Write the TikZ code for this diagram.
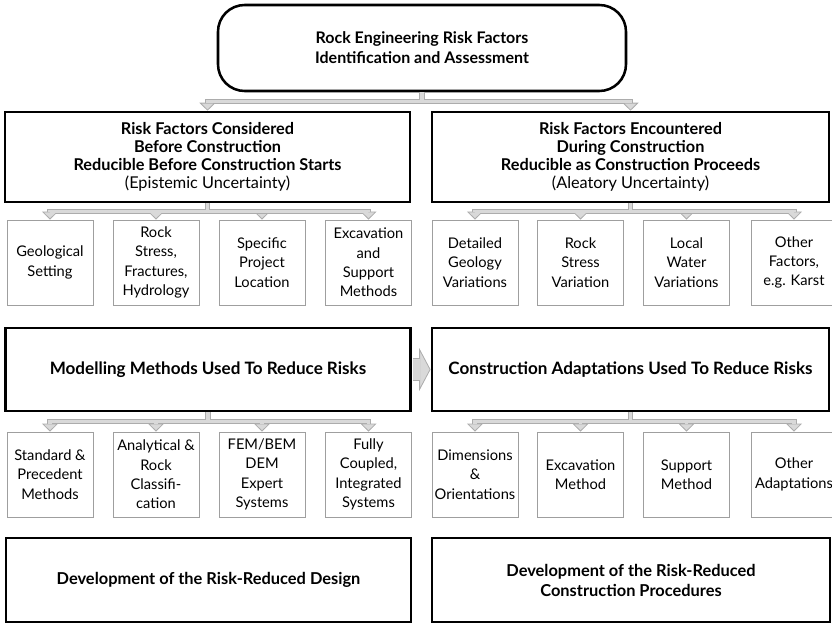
\documentclass[tikz,border=0pt]{standalone}
\usepackage{fontspec}
\setmainfont{Lato}
\usetikzlibrary{arrows.meta}

\begin{document}
\begin{tikzpicture}[x=0.75pt,y=-0.75pt,
  main node/.style={draw, line width=1.9pt, align=center, inner sep=2pt,
    font=\fontsize{12.2}{13.6}\selectfont\bfseries},
  top node/.style={main node, rounded corners=20pt,
    font=\fontsize{12}{15}\selectfont\bfseries},
  big node/.style={main node, font=\fontsize{12.8}{15}\selectfont\bfseries},
  end node/.style={main node, font=\fontsize{12.3}{15}\selectfont\bfseries},
  sub node/.style={draw=gray!75, line width=0.6pt, align=center, inner sep=1pt,
    minimum width=64.5pt, minimum height=63.75pt,
    font=\fontsize{11}{14.5}\selectfont},
  feed/.style={draw=gray!65, line width=3.8pt,
    -{Triangle[length=6pt,width=12pt,fill=gray!30,line width=0.6pt]}},
  feed fill/.style={draw=gray!30, line width=2.4pt, shorten >=5.5pt}]

  \useasboundingbox (0,0) rectangle (832,624);

  % top level
  \node[top node, minimum width=306pt, minimum height=64.5pt] (101) at (422,48)
    {Rock Engineering Risk Factors\\Identification and Assessment};

  % before / during construction
  \node[main node, minimum width=303.75pt, minimum height=67.5pt] (201) at (207.5,157)
    {Risk Factors Considered\\Before Construction\\Reducible Before Construction Starts\\
     {\mdseries (Epistemic Uncertainty)}};
  \node[main node, minimum width=298pt, minimum height=67.5pt] (202) at (630.5,157)
    {Risk Factors Encountered\\During Construction\\Reducible as Construction Proceeds\\
     {\mdseries (Aleatory Uncertainty)}};

  \node[sub node] (301) at (50,262.5)    {Geological\\Setting};
  \node[sub node] (302) at (156,262.5)   {Rock\\Stress,\\Fractures,\\Hydrology};
  \node[sub node] (303) at (262,262.5)   {Specific\\Project\\Location};
  \node[sub node] (304) at (368.5,262.5) {Excavation\\and\\Support\\Methods};
  \node[sub node] (305) at (475,262.5)   {Detailed\\Geology\\Variations};
  \node[sub node] (306) at (580.5,262.5) {Rock\\Stress\\Variation};
  \node[sub node] (307) at (686.5,262.5) {Local\\Water\\Variations};
  \node[sub node] (308) at (794,262.5)   {Other\\Factors,\\e.g. Karst};

  % risk reduction
  \node[big node, minimum width=303.75pt, minimum height=62.25pt] (401) at (208,369.5)
    {Modelling Methods Used To Reduce Risks};
  \node[big node, minimum width=298pt, minimum height=62.25pt] (402) at (630.5,369.5)
    {Construction Adaptations Used To Reduce Risks};

  \node[sub node] (501) at (50,474.5)    {Standard \&\\Precedent\\Methods};
  \node[sub node] (502) at (156,474.5)   {Analytical \&\\Rock\\Classifi-\\cation};
  \node[sub node] (503) at (262,474.5)   {FEM/BEM\\DEM\\Expert\\Systems};
  \node[sub node] (504) at (368.5,474.5) {Fully\\Coupled,\\Integrated\\Systems};
  \node[sub node] (505) at (475,474.5)   {Dimensions\\\&\\Orientations};
  \node[sub node] (506) at (580.5,474.5) {Excavation\\Method};
  \node[sub node] (507) at (686.5,474.5) {Support\\Method};
  \node[sub node] (508) at (794,474.5)   {Other\\Adaptations};

  % outcomes
  \node[end node, minimum width=303.75pt, minimum height=63pt] (601) at (208.5,580)
    {Development of the Risk-Reduced Design};
  \node[end node, minimum width=298.5pt, minimum height=63pt] (602) at (631,580)
    {Development of the Risk-Reduced\\Construction Procedures};

  % grey feeders, outline first then fill
  \foreach \a/\b/\d in {101/201/9, 101/202/9,
      201/301/8, 201/302/8, 201/303/8, 201/304/8,
      202/305/8, 202/306/8, 202/307/8, 202/308/8,
      401/501/9, 401/502/9, 401/503/9, 401/504/9,
      402/505/9, 402/506/9, 402/507/9, 402/508/9}
    \draw[feed] (\a.south) -- ++(0,\d) -| (\b.north);
  \foreach \a/\b/\d in {101/201/9, 101/202/9,
      201/301/8, 201/302/8, 201/303/8, 201/304/8,
      202/305/8, 202/306/8, 202/307/8, 202/308/8,
      401/501/9, 401/502/9, 401/503/9, 401/504/9,
      402/505/9, 402/506/9, 402/507/9, 402/508/9}
    \draw[feed fill] (\a.south) -- ++(0,\d) -| (\b.north);

  % block arrow from models to adaptations
  \draw[draw=gray!65, line width=17.25pt, shorten <=1pt,
    -{Triangle[length=8.5pt,width=32pt,fill=gray!30,line width=0.6pt]}] (401) -- (402);
  \draw[draw=gray!30, line width=16pt, shorten <=1pt, shorten >=8pt] (401) -- (402);

\end{tikzpicture}
\end{document}
